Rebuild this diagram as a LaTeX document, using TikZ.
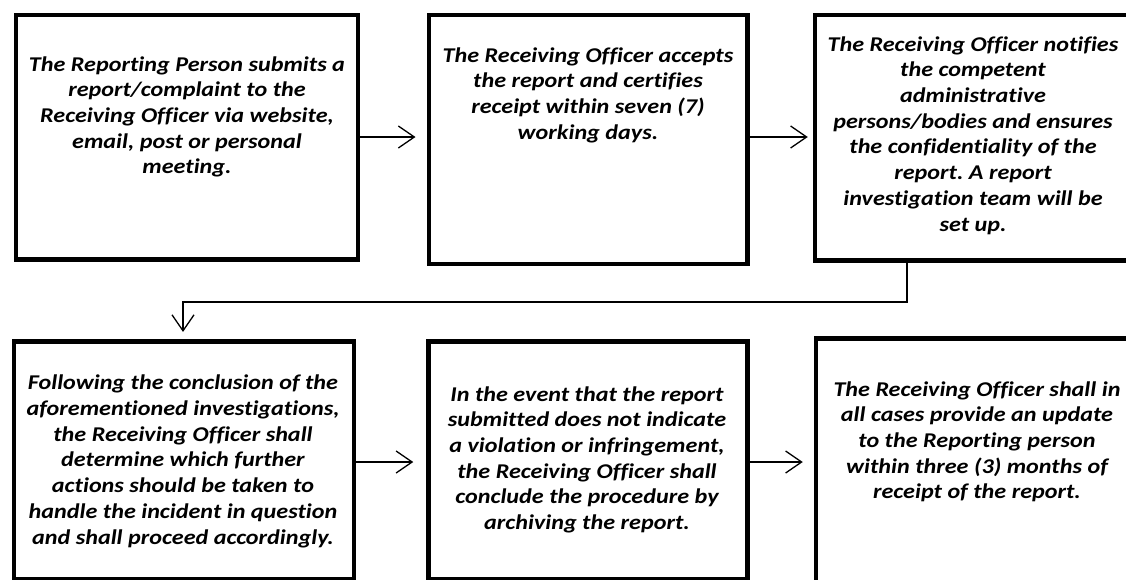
\documentclass[tikz,border=0pt]{standalone}
\usepackage{fontspec}
\setmainfont{Carlito}[FakeStretch=1.15,Ligatures=NoCommon]
\usetikzlibrary{arrows.meta}
\frenchspacing
\tikzset{
  stepbox/.style={draw,line width=4.5pt,rectangle,inner sep=0pt},
  steptext/.style={align=center,inner sep=0pt,font=\fontsize{21}{25.7}\selectfont\bfseries\itshape},
  flow/.style={line width=1.3pt,-{Straight Barb[length=16pt,width=22pt,line width=1.3pt]}}
}
\begin{document}
\begin{tikzpicture}[x=1pt,y=-1pt]
\useasboundingbox (0,0) rectangle (1126,579);
\clip (0,0) rectangle (1126,579);
\node[stepbox,minimum width=342pt,minimum height=244.5pt] (submit) at (187,137) {};
\node[stepbox,minimum width=318.5pt,minimum height=249pt] (accept) at (588,139.5) {};
\node[stepbox,minimum width=316pt,minimum height=245.5pt] (notify) at (973,137.75) {};
\node[stepbox,minimum width=340pt,minimum height=237.8pt] (follow) at (184,460.6) {};
\node[stepbox,minimum width=319pt,minimum height=237.8pt] (archive) at (588,460.6) {};
\node[stepbox,minimum width=322pt,minimum height=260pt] (update) at (977,468.3) {};
\node[steptext,anchor=base] (submitText) at (187,173.8) {The Reporting Person submits a\\report/complaint to the\\Receiving Officer via website,\\email, post or personal\\meeting.};
\node[steptext,anchor=base] (acceptText) at (588,139.1) {The Receiving Officer accepts\\the report and certifies\\receipt within seven (7)\\working days.};
\node[steptext,anchor=base] (notifyText) at (973,231) {The Receiving Officer notifies\\the competent\\administrative\\persons/bodies and ensures\\the confidentiality of the\\report. A report\\investigation team will be\\set up.};
\node[steptext,anchor=base] (followText) at (183,544) {Following the conclusion of the\\aforementioned investigations,\\the Receiving Officer shall\\determine which further\\actions should be taken to\\handle the incident in question\\and shall proceed accordingly.};
\node[steptext,anchor=base] (archiveText) at (587,529.5) {In the event that the report\\submitted does not indicate\\a violation or infringement,\\the Receiving Officer shall\\conclude the procedure by\\archiving the report.};
\node[steptext,anchor=base] (updateText) at (977,498.8) {The Receiving Officer shall in\\all cases provide an update\\to the Reporting person\\within three (3) months of\\receipt of the report.};
\coordinate (dropR) at (907,302);
\coordinate (dropL) at (183,302);
\draw[flow,shorten >=11pt] (submit.east) -- (submit.east -| accept.west);
\draw[flow,shorten >=5pt] (accept.east |- submit.east) -- (submit.east -| notify.west);
\draw[flow,shorten >=7.5pt] (notify.south -| dropR) -- (dropR) -- (dropL) -- (follow.north -| dropL);
\draw[flow,shorten >=13pt] (follow.east |- 0,462) -- (archive.west |- 0,462);
\draw[flow,shorten >=11pt] (archive.east |- 0,462) -- (update.west |- 0,462);
\end{tikzpicture}
\end{document}
